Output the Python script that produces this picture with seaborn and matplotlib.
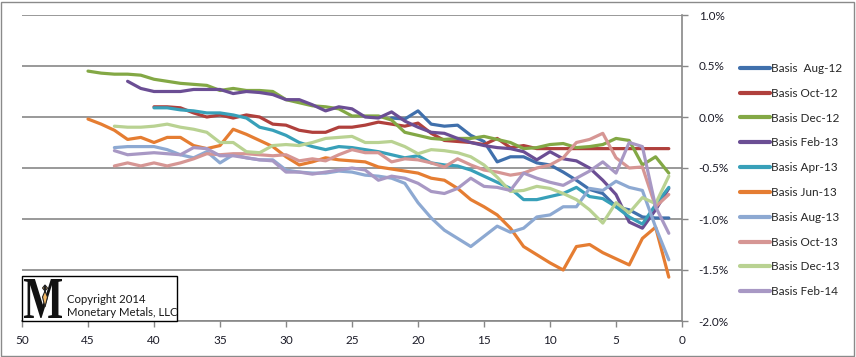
import matplotlib
matplotlib.use("Agg")
import matplotlib.pyplot as plt
import matplotlib.patches as mpatches
from matplotlib.textpath import TextPath
from matplotlib.font_manager import FontProperties
from matplotlib.transforms import Affine2D
import seaborn as sns
import numpy as np
import pandas as pd

sns.set_theme(style="white")
plt.rcParams['font.family'] = ['Lato', 'DejaVu Sans']

# --- data: basis (%) by days to expiry; each series ends at day 1 ---
aug_12 = [-0.01, -0.02, 0.06, -0.07, -0.09, -0.08, -0.18, -0.24, -0.44, -0.39,
          -0.39, -0.45, -0.47, -0.54, -0.62, -0.71, -0.75, -0.88, -0.91, -0.98,
          -0.99, -0.99]
oct_12 = [0.10, 0.10, 0.09, 0.04, 0.00, 0.02, -0.01, 0.02, 0.00, -0.07,
          -0.08, -0.13, -0.15, -0.15, -0.10, -0.10, -0.08, -0.05, -0.07, -0.09,
          -0.06, -0.16, -0.23, -0.24, -0.25, -0.27, -0.21, -0.30, -0.28,
          -0.31, -0.31, -0.31, -0.31, -0.31, -0.31, -0.31, -0.31, -0.31, -0.31, -0.31]
dec_12 = [0.45, 0.43, 0.42, 0.42, 0.41, 0.37, 0.35, 0.33, 0.32, 0.31,
          0.26, 0.28, 0.26, 0.26, 0.25, 0.17, 0.14, 0.11, 0.10, 0.08,
          0.01, 0.01, 0.01, -0.03, -0.15, -0.18, -0.21, -0.22, -0.21, -0.21,
          -0.19, -0.22, -0.25, -0.31, -0.30, -0.27, -0.26, -0.30, -0.29, -0.27,
          -0.21, -0.23, -0.47, -0.39, -0.55]
feb_13 = [0.35, 0.28, 0.25, 0.25, 0.25, 0.27, 0.27, 0.27, 0.23, 0.25,
          0.24, 0.22, 0.17, 0.17, 0.12, 0.06, 0.10, 0.08, 0.00, -0.01,
          0.05, -0.04, -0.10, -0.15, -0.16, -0.21, -0.25, -0.28, -0.30, -0.31,
          -0.34, -0.42, -0.34, -0.41, -0.43, -0.50, -0.62, -0.76, -1.03, -1.09,
          -0.91, -0.70]
apr_13 = [0.09, 0.09, 0.07, 0.06, 0.04, 0.04, 0.02, -0.01, -0.10, -0.13,
          -0.18, -0.25, -0.29, -0.32, -0.29, -0.30, -0.32, -0.34, -0.37, -0.40,
          -0.38, -0.45, -0.47, -0.48, -0.52, -0.58, -0.64, -0.70, -0.81, -0.81,
          -0.78, -0.75, -0.69, -0.78, -0.80, -0.88, -0.98, -1.05, -0.86, -0.69]
jun_13 = [-0.02, -0.07, -0.13, -0.22, -0.20, -0.25, -0.20, -0.20, -0.28, -0.31,
          -0.28, -0.12, -0.17, -0.23, -0.29, -0.39, -0.47, -0.44, -0.40, -0.42,
          -0.43, -0.44, -0.49, -0.51, -0.53, -0.55, -0.60, -0.62, -0.70, -0.81,
          -0.88, -0.96, -1.09, -1.27, -1.35, -1.43, -1.50, -1.27, -1.25, -1.33,
          -1.39, -1.45, -1.19, -1.08, -1.57]
aug_13 = [-0.30, -0.29, -0.29, -0.29, -0.32, -0.37, -0.40, -0.34, -0.45, -0.37,
          -0.40, -0.42, -0.42, -0.52, -0.54, -0.55, -0.55, -0.53, -0.54, -0.57,
          -0.58, -0.60, -0.65, -0.84, -0.99, -1.11, -1.19, -1.27, -1.17, -1.07,
          -1.13, -1.09, -0.98, -0.96, -0.88, -0.88, -0.70, -0.72, -0.63, -0.69,
          -0.72, -1.08, -1.40]
oct_13 = [-0.48, -0.45, -0.48, -0.45, -0.48, -0.45, -0.41, -0.36, -0.37, -0.36,
          -0.36, -0.37, -0.38, -0.37, -0.43, -0.41, -0.43, -0.37, -0.32, -0.35,
          -0.35, -0.44, -0.41, -0.42, -0.45, -0.49, -0.41, -0.47, -0.52, -0.54,
          -0.57, -0.55, -0.50, -0.47, -0.40, -0.25, -0.22, -0.16, -0.40, -0.50,
          -0.49, -0.88, -0.76]
dec_13 = [-0.09, -0.10, -0.10, -0.09, -0.07, -0.10, -0.12, -0.15, -0.25, -0.25,
          -0.34, -0.35, -0.28, -0.27, -0.28, -0.25, -0.21, -0.20, -0.19, -0.25,
          -0.25, -0.24, -0.29, -0.36, -0.32, -0.33, -0.35, -0.39, -0.47, -0.59,
          -0.73, -0.72, -0.68, -0.70, -0.75, -0.81, -0.91, -1.04, -0.84, -0.94,
          -0.79, -0.85, -0.58]
feb_14 = [-0.33, -0.37, -0.36, -0.35, -0.36, -0.37, -0.30, -0.31, -0.38, -0.38,
          -0.40, -0.42, -0.43, -0.54, -0.54, -0.56, -0.54, -0.52, -0.50, -0.52,
          -0.62, -0.58, -0.60, -0.65, -0.73, -0.75, -0.70, -0.60, -0.68, -0.69,
          -0.72, -0.55, -0.60, -0.64, -0.67, -0.60, -0.53, -0.44, -0.55, -0.25,
          -0.29, -0.88, -1.14]

labels = ['Basis  Aug-12', 'Basis Oct-12', 'Basis Dec-12', 'Basis Feb-13', 'Basis Apr-13',
          'Basis Jun-13', 'Basis Aug-13', 'Basis Oct-13', 'Basis Dec-13', 'Basis Feb-14']
series = [aug_12, oct_12, dec_12, feb_13, apr_13, jun_13, aug_13, oct_13, dec_13, feb_14]
colors = ['#4070AC', '#B0403C', '#83A845', '#6B4E94', '#38A0B9',
          '#E57D32', '#8DA9D2', '#D69694', '#B9D292', '#A898C4']

x_ticks = [50, 45, 40, 35, 30, 25, 20, 15, 10, 5, 0]
y_ticks = [1.0, 0.5, 0.0, -0.5, -1.0, -1.5, -2.0]

rows = []
for name, vals in zip(labels, series):
    days = np.arange(len(vals), 0, -1)
    for d, v in zip(days, vals):
        rows.append({'Days': d, 'Basis': v, 'Series': name})
df = pd.DataFrame(rows)

W, H = 856, 357
fig = plt.figure(figsize=(W / 100, H / 100), dpi=100)
ax = fig.add_axes([22 / W, 36 / H, 660 / W, 306 / H])

sns.lineplot(data=df, x='Days', y='Basis', hue='Series', hue_order=labels,
             palette=dict(zip(labels, colors)), linewidth=2.3, ax=ax, sort=False,
             estimator=None)

ax.set_xlim(50, 0)
ax.set_ylim(-2.0, 1.0)
ax.set_xticks(x_ticks)
ax.set_yticks(y_ticks)
ax.set_yticklabels([f'{t:.1f}%' for t in y_ticks])
ax.set_xlabel('')
ax.set_ylabel('')

grid_c = '#878787'
for t in y_ticks:
    ax.axhline(t, color=grid_c, lw=1.2, zorder=0)
ax.yaxis.tick_right()
for side in ['top', 'left']:
    ax.spines[side].set_visible(False)
ax.spines['right'].set_color(grid_c)
ax.spines['right'].set_linewidth(1.2)
ax.spines['bottom'].set_color(grid_c)
ax.spines['bottom'].set_linewidth(1.2)
ax.tick_params(axis='both', which='both', direction='out', length=4, width=1,
               color=grid_c, labelsize=8.5, labelcolor='#1c1c28')
ax.tick_params(axis='y', pad=8, right=True, left=False)
ax.tick_params(axis='x', pad=6, bottom=True)

leg = ax.legend(loc='upper left', bbox_to_anchor=(740 / W, 1 - 63 / H),
                bbox_transform=fig.transFigure, frameon=False, fontsize=8.5,
                handlelength=2.5, handletextpad=0.1, labelspacing=1.17,
                borderpad=0, borderaxespad=0)
for h in leg.get_lines():
    h.set_linewidth(3)

# copyright box in the lower-left corner
fig.patches.append(mpatches.Rectangle((22 / W, 36 / H), 155 / W, 45 / H,
                                      transform=fig.transFigure, facecolor='white',
                                      edgecolor='black', lw=1, zorder=5))
# serif "M" logo, squeezed to fit the box
m_path = TextPath((0, 0), 'M', size=1,
                  prop=FontProperties(family='Liberation Serif', weight='bold'))
ext = m_path.get_extents()
m_tr = (Affine2D().translate(-ext.x0, -ext.y0)
        .scale(38 / W / ext.width, 39 / H / ext.height)
        .translate(24 / W, (H - 318) / H))
fig.patches.append(mpatches.PathPatch(m_tr.transform_path(m_path), transform=fig.transFigure,
                                      facecolor='#111111', edgecolor='none', zorder=6))
# small orange pendant in the middle of the M
pend = [(45, 285), (47.5, 288), (45, 291), (42.5, 288), (45, 285), (45, 291),
        (47.5, 297), (45, 307), (42.5, 297), (45, 291)]
fig.patches.append(mpatches.Polygon([(px / W, (H - py) / H) for px, py in pend], closed=True,
                                    transform=fig.transFigure, facecolor='#F5BA66',
                                    edgecolor='#222222', lw=0.8, zorder=7))
fig.text(67 / W, (H - 306) / H, 'Copyright 2014\nMonetary Metals, LLC', fontsize=8.2,
         ha='left', va='center', linespacing=1.2, color='#1a1a1a', zorder=6)

# outer chart border
fig.patches.append(mpatches.Rectangle((1 / W, 1 / H), 853 / W, 354 / H,
                                      transform=fig.transFigure, fill=False,
                                      edgecolor='#8a8a8a', lw=1))

fig.savefig('out.png', dpi=100)
